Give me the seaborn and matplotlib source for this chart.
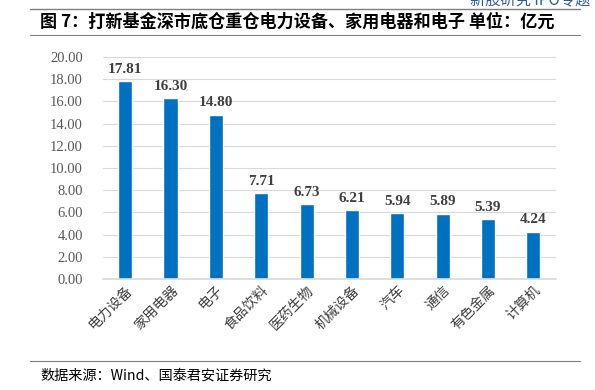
import matplotlib
matplotlib.use("Agg")
import matplotlib.pyplot as plt
import seaborn as sns
import pandas as pd

categories = ["电力设备", "家用电器", "电子", "食品饮料", "医药生物", "机械设备", "汽车", "通信", "有色金属", "计算机"]
values = [17.81, 16.30, 14.80, 7.71, 6.73, 6.21, 5.94, 5.89, 5.39, 4.24]
yticks = [0, 2, 4, 6, 8, 10, 12, 14, 16, 18, 20]

sns.set_theme(style="white")
plt.rcParams['font.family'] = ['Noto Sans CJK SC', 'DejaVu Sans']

df = pd.DataFrame({"cat": categories, "val": values})

fig = plt.figure(figsize=(5.95, 3.9), dpi=100)
ax = fig.add_axes([102.5/595, 1-279/390, (556-102.5)/595, (279-57)/390])

sns.barplot(data=df, x="cat", y="val", color="#0070C0", width=0.31, ax=ax, saturation=1)
ax.set_ylim(0, 20)
ax.set_yticks(yticks)
ax.set_yticklabels([f"{v:.2f}" for v in yticks], family="Liberation Serif", fontsize=10.5, color="#595959")
ax.yaxis.grid(True, color="#D9D9D9", linewidth=0.8)
ax.set_axisbelow(True)
for s in ["top", "right", "left"]:
    ax.spines[s].set_visible(False)
ax.spines["bottom"].set_color("#D9D9D9")
ax.tick_params(axis="y", length=0, pad=14)
ax.tick_params(axis="x", length=0, pad=3)
ax.set_xlim(-0.5, len(categories)-0.5)
ax.set_xticks(range(len(categories)))
ax.set_xticklabels(categories, rotation=45, ha="right", rotation_mode="anchor", fontsize=10, color="#404040")
ax.set_xlabel("")
ax.set_ylabel("")

for i, v in enumerate(values):
    ax.text(i, v + 0.5, f"{v:.2f}", ha="center", va="bottom", family="Liberation Serif",
            fontsize=11, fontweight="bold", color="#404040")

# header lines and title
fig.add_artist(plt.Line2D([30/595, 580/595], [1-9/390, 1-9/390], color="#7F7F7F", linewidth=1.0))
fig.add_artist(plt.Line2D([30/595, 580/595], [1-35/390, 1-35/390], color="#7F7F7F", linewidth=0.8))
fig.text(40/595, 1-22/390, "图 7：打新基金深市底仓重仓电力设备、家用电器和电子 单位：亿元",
         fontsize=12.3, fontweight="bold", va="center", ha="left", color="#000000")
fig.text(590/595, 1-1/390, "新股研究 IPO专题", fontsize=11, color="#2E5C99", ha="right", va="center")

fig.add_artist(plt.Line2D([30/595, 580/595], [1-361/390, 1-361/390], color="#7F7F7F", linewidth=0.8))
fig.text(40/595, 1-376/390, "数据来源：Wind、国泰君安证券研究", fontsize=10.2, va="center", ha="left",
         family=["Noto Sans CJK SC", "Liberation Serif"], color="#000000")

fig.savefig("out.png", dpi=100)
